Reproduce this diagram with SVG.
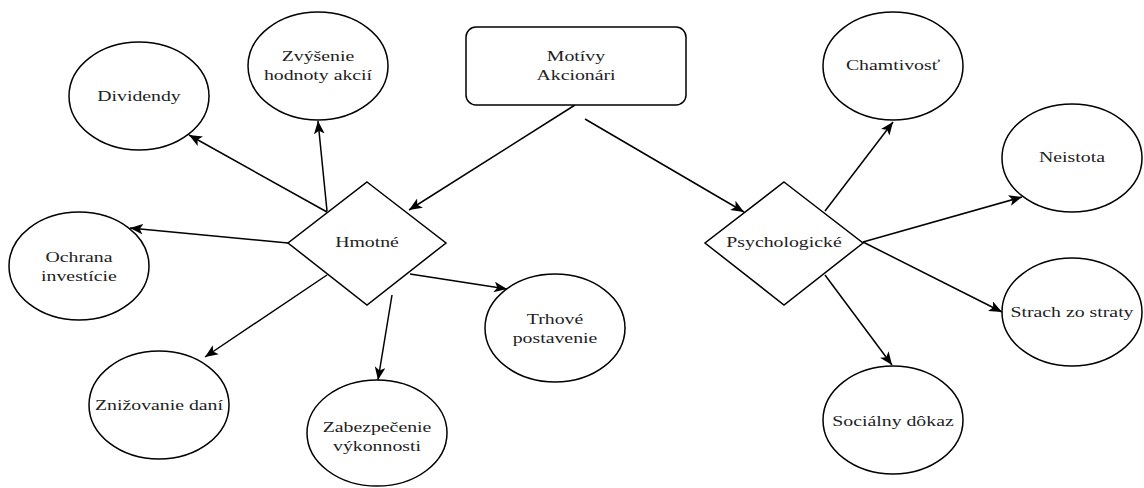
<svg xmlns="http://www.w3.org/2000/svg" width="1144" height="488" viewBox="0 0 1144 488">
<style>
.n{fill:#fff;stroke:#000;stroke-width:1.5}
.t{font-family:"Liberation Serif","Times New Roman",serif;font-size:15px;fill:#222;text-anchor:middle}
.c line{stroke:#000;stroke-width:1.5;marker-end:url(#ah)}
</style>
<defs>
<marker id="ah" viewBox="0 0 12 10" markerUnits="userSpaceOnUse" markerWidth="13" markerHeight="11" refX="12" refY="5" orient="auto">
<path d="M0,0 L12,5 L0,10 L3,5 Z" fill="#000"/>
</marker>
</defs>
<rect width="1144" height="488" fill="#fff"/>
<g id="connectors" class="c">
<line x1="575" y1="105" x2="409" y2="210"/>
<line x1="585" y1="119" x2="744" y2="212"/>
<line x1="327" y1="212" x2="189" y2="135"/>
<line x1="327" y1="211" x2="318" y2="121"/>
<line x1="288" y1="243" x2="130" y2="228"/>
<line x1="327" y1="275" x2="205" y2="357"/>
<line x1="410" y1="274" x2="507" y2="289"/>
<line x1="392" y1="295" x2="378" y2="380"/>
<line x1="825" y1="211" x2="893" y2="122"/>
<line x1="863" y1="242" x2="1022" y2="197"/>
<line x1="863" y1="242" x2="1002" y2="312"/>
<line x1="825" y1="275" x2="892" y2="365"/>
</g>
<g id="motivy">
<rect class="n" x="466" y="27" width="220" height="78" rx="10"/>
<text class="t" transform="translate(576,61) scale(1.32,1)"><tspan x="0">Motívy</tspan><tspan x="0" dy="19">Akcionári</tspan></text>
</g>
<g id="hmotne">
<polygon class="n" points="367,182 446,243 367,305 288,243"/>
<text class="t" transform="translate(367,247) scale(1.32,1)">Hmotné</text>
</g>
<g id="psychologicke">
<polygon class="n" points="784,182 863,243 784,305 705,243"/>
<text class="t" transform="translate(784,247) scale(1.32,1)">Psychologické</text>
</g>
<g id="dividendy">
<ellipse class="n" cx="139" cy="96" rx="70" ry="54"/>
<text class="t" transform="translate(139,101) scale(1.32,1)">Dividendy</text>
</g>
<g id="zvysenie">
<ellipse class="n" cx="318" cy="66" rx="70" ry="54"/>
<text class="t" transform="translate(318,61) scale(1.32,1)"><tspan x="0">Zvýšenie</tspan><tspan x="0" dy="19">hodnoty akcií</tspan></text>
</g>
<g id="ochrana">
<ellipse class="n" cx="79" cy="266" rx="70" ry="54"/>
<text class="t" transform="translate(79,262) scale(1.32,1)"><tspan x="0">Ochrana</tspan><tspan x="0" dy="19">investície</tspan></text>
</g>
<g id="znizovanie">
<ellipse class="n" cx="159" cy="405" rx="70" ry="54"/>
<text class="t" transform="translate(159,410) scale(1.32,1)">Znižovanie daní</text>
</g>
<g id="zabezpecenie">
<ellipse class="n" cx="377" cy="433" rx="70" ry="53"/>
<text class="t" transform="translate(377,432) scale(1.32,1)"><tspan x="0">Zabezpečenie</tspan><tspan x="0" dy="19">výkonnosti</tspan></text>
</g>
<g id="trhove">
<ellipse class="n" cx="555" cy="328" rx="70" ry="54"/>
<text class="t" transform="translate(555,324) scale(1.32,1)"><tspan x="0">Trhové</tspan><tspan x="0" dy="19">postavenie</tspan></text>
</g>
<g id="chamtivost">
<ellipse class="n" cx="893" cy="66" rx="70" ry="54"/>
<text class="t" transform="translate(893,70) scale(1.32,1)">Chamtivosť</text>
</g>
<g id="neistota">
<ellipse class="n" cx="1072" cy="158" rx="70" ry="54"/>
<text class="t" transform="translate(1072,162) scale(1.32,1)">Neistota</text>
</g>
<g id="strach">
<ellipse class="n" cx="1072" cy="312" rx="70" ry="54"/>
<text class="t" transform="translate(1072,317) scale(1.32,1)">Strach zo straty</text>
</g>
<g id="socialny">
<ellipse class="n" cx="893" cy="420" rx="70" ry="54"/>
<text class="t" transform="translate(893,426) scale(1.32,1)">Sociálny dôkaz</text>
</g>
</svg>
